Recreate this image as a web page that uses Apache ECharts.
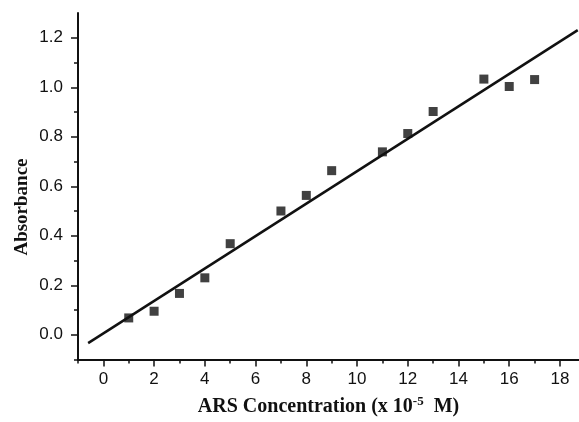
<!DOCTYPE html>
<html>
<head>
<meta charset="utf-8">
<script src="https://cdn.jsdelivr.net/npm/echarts@6/dist/echarts.min.js"></script>
<style>
  html, body { margin: 0; padding: 0; background: #fff; }
  #container { width: 579px; height: 422px; }
</style>
</head>
<body>
<div id="container"></div>
<script>
// measured points (concentration x 10^-5 M, absorbance)
var concentration = [1, 2, 3, 4, 5, 7, 8, 9, 11, 12, 13, 15, 16, 17];
var absorbance = [0.068, 0.095, 0.167, 0.23, 0.368, 0.50, 0.563, 0.663, 0.739, 0.813, 0.902, 1.033, 1.003, 1.031];
// fitted line, end points
var fitX = [-0.6, 18.7];
var fitY = [-0.034, 1.231];
// tick values
var xTicks = [0, 2, 4, 6, 8, 10, 12, 14, 16, 18];
var xMinorTicks = [-1, 1, 3, 5, 7, 9, 11, 13, 15, 17];
var yTicks = [0, 0.2, 0.4, 0.6, 0.8, 1.0, 1.2];
var yMinorTicks = [-0.1, 0.1, 0.3, 0.5, 0.7, 0.9, 1.1];

(function() {
    var dom = document.getElementById('container');
    var myChart = echarts.init(dom);

    var points = concentration.map(function(c, i) { return [c, absorbance[i]]; });
    var fitLine = fitX.map(function(x, i) { return [x, fitY[i]]; });

    var labelFont = {
        color: '#111',
        fontFamily: 'Liberation Sans',
        fontSize: 17
    };

    var option = {
        animation: false,
        grid: {
            left: 78,
            right: 0,
            top: 13,
            bottom: 55
        },
        xAxis: [
            {
                type: 'value',
                min: -1,
                max: 18.75,
                name: 'ARS Concentration (x 10{sup|-5}  M)',
                nameLocation: 'middle',
                nameGap: 36,
                nameTextStyle: {
                    color: '#111',
                    fontFamily: 'Liberation Serif',
                    fontWeight: 'bold',
                    fontSize: 20,
                    rich: {
                        sup: {
                            fontFamily: 'Liberation Serif',
                            fontWeight: 'bold',
                            fontSize: 13,
                            verticalAlign: 'top',
                            padding: [0, 0, 10, 0]
                        }
                    }
                },
                axisLine: { onZero: false, lineStyle: { color: '#111', width: 2 } },
                axisTick: {
                    customValues: xTicks,
                    length: 7,
                    lineStyle: { color: '#111', width: 1.5 }
                },
                axisLabel: Object.assign({
                    customValues: xTicks,
                    margin: 11
                }, labelFont),
                splitLine: { show: false }
            },
            {
                // minor ticks only
                type: 'value',
                position: 'bottom',
                min: -1,
                max: 18.75,
                axisLine: { show: false, onZero: false },
                axisTick: {
                    customValues: xMinorTicks,
                    length: 4,
                    lineStyle: { color: '#111', width: 1.5 }
                },
                axisLabel: { show: false },
                splitLine: { show: false }
            }
        ],
        yAxis: [
            {
                type: 'value',
                min: -0.1,
                max: 1.3,
                axisLine: { show: true, onZero: false, lineStyle: { color: '#111', width: 2 } },
                axisTick: {
                    show: true,
                    customValues: yTicks,
                    length: 7,
                    lineStyle: { color: '#111', width: 1.5 }
                },
                axisLabel: Object.assign({
                    customValues: yTicks,
                    margin: 15,
                    formatter: function(v) { return v.toFixed(1); }
                }, labelFont),
                splitLine: { show: false }
            },
            {
                type: 'value',
                position: 'left',
                min: -0.1,
                max: 1.3,
                axisLine: { show: false, onZero: false },
                axisTick: {
                    show: true,
                    customValues: yMinorTicks,
                    length: 4,
                    lineStyle: { color: '#111', width: 1.5 }
                },
                axisLabel: { show: false },
                splitLine: { show: false }
            }
        ],
        graphic: [
            {
                type: 'text',
                x: 22,
                y: 207,
                rotation: Math.PI / 2,
                style: {
                    text: 'Absorbance',
                    fill: '#111',
                    font: 'bold 19px "Liberation Serif"',
                    align: 'center',
                    verticalAlign: 'middle'
                }
            }
        ],
        series: [
            {
                name: 'fit',
                type: 'line',
                data: fitLine,
                symbol: 'none',
                lineStyle: { color: '#111', width: 2.5 },
                z: 2
            },
            {
                name: 'data',
                type: 'scatter',
                data: points,
                symbol: 'rect',
                symbolSize: 9,
                itemStyle: { color: '#111' },
                z: 3
            }
        ]
    };

    if (option && typeof option === 'object') {
        myChart.setOption(option, true);
    }
})();
</script>
</body>
</html>
